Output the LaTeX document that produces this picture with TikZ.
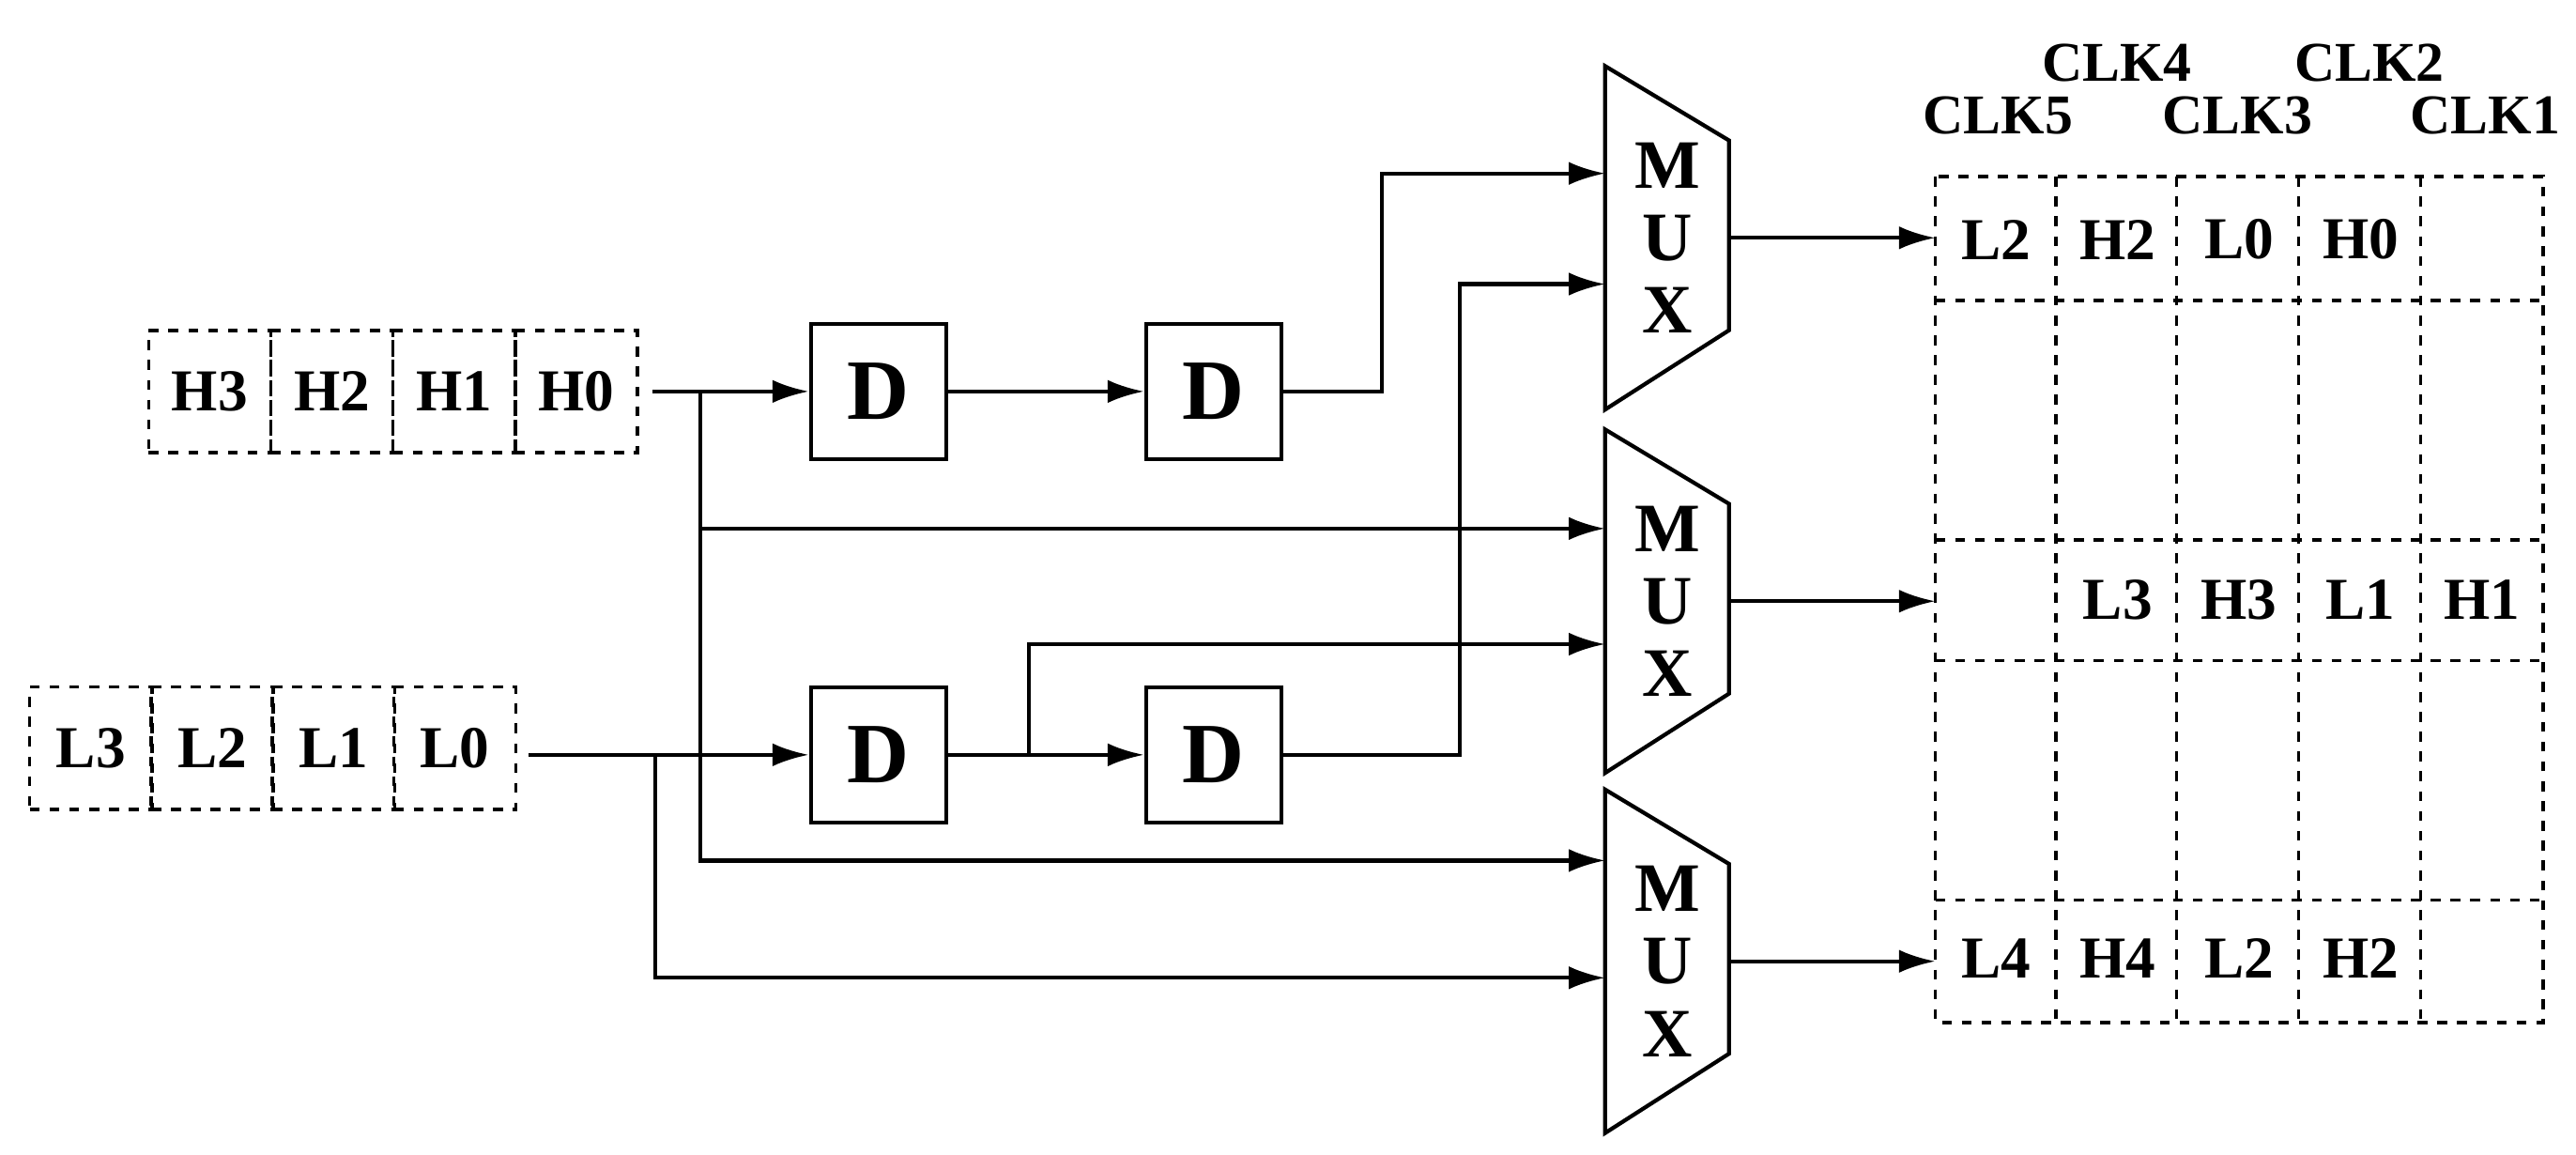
\documentclass[tikz,border=0pt]{standalone}
\usepackage{fontspec}
\setmainfont{Liberation Serif}
\usetikzlibrary{arrows.meta}
\begin{document}
\begin{tikzpicture}[x=0.5pt,y=-0.5pt,
  cell/.style={draw,dashed,line width=1pt,minimum width=37pt,minimum height=37pt,inner sep=0pt,font=\bfseries\fontsize{18}{18}\selectfont},
  dbox/.style={draw,line width=1.2pt,minimum width=41pt,minimum height=41pt,inner sep=0pt,font=\bfseries\fontsize{26}{26}\selectfont},
  arr/.style={line width=1.2pt,-{Latex[length=11pt,width=7pt]}},
  ln/.style={line width=1.2pt},
  clk/.style={font=\bfseries\fontsize{17}{17}\selectfont},
  mx/.style={font=\bfseries\fontsize{21}{21}\selectfont}]
\useasboundingbox (0,0) rectangle (1560,699);
% H cells
\foreach \t [count=\i] in {H3,H2,H1,H0} \node[cell] (h\i) at ({90+74*(\i-1)+37},237) {\t};
\foreach \t [count=\i] in {L3,L2,L1,L0} \node[cell] (l\i) at ({18+73.5*(\i-1)+37},453) {\t};
% D boxes
\node[dbox] (d1) at (532,237) {D};
\node[dbox] (d2) at (735,237) {D};
\node[dbox] (d3) at (532,457) {D};
\node[dbox] (d4) at (735,457) {D};
% MUXes
\foreach \k/\y in {1/40,2/260,3/478}{
  \draw[line width=1.2pt] (972,\y) -- (1047,\y+45) -- (1047,\y+160) -- (972,\y+208) -- cycle;
  \node[mx] at (1010,\y+60) {M};
  \node[mx] at (1010,\y+104) {U};
  \node[mx] at (1010,\y+148) {X};
  \coordinate (mo\k) at (1047,\y+104);
}
% connectors
\coordinate (hs) at (395,237);
\draw[arr] (hs) -- (d1.west);
\draw[arr] (d1.east) -- (d2.west);
\draw[arr] (d2.east) -- (837,237) -- (837,105) -- (972,105);
\draw[arr] (424,237) -- (424,521) -- (972,521);
\draw[arr] (424,320) -- (972,320);
\coordinate (ls) at (320,457);
\draw[arr] (ls) -- (d3.west);
\draw[arr] (d3.east) -- (d4.west);
\draw[arr] (397,457) -- (397,592) -- (972,592);
\draw[arr] (623,457) -- (623,390) -- (972,390);
\draw[arr] (d4.east) -- (884,457) -- (884,172) -- (972,172);
\foreach \k in {1,2,3}{\draw[arr] (mo\k) -- ++(125,0) coordinate (gi\k);}
% grid
\draw[dashed,line width=1pt] (1172,107) rectangle (1540,619);
\foreach \y in {182,327,400,545} \draw[dashed,line width=1pt] (1172,\y) -- (1540,\y);
\foreach \x in {1245,1318,1392,1466} \draw[dashed,line width=1pt] (\x,107) -- (\x,619);
\foreach \t [count=\i] in {L2,H2,L0,H0} \node[cell,draw=none] at ({1172+73.6*(\i-1)+36.8},145) {\t};
\foreach \t [count=\i] in {L3,H3,L1,H1} \node[cell,draw=none] at ({1172+73.6*\i+36.8},363) {\t};
\foreach \t [count=\i] in {L4,H4,L2,H2} \node[cell,draw=none] at ({1172+73.6*(\i-1)+36.8},580) {\t};
\node[clk] at (1210,70) {CLK5};
\node[clk] at (1282,38) {CLK4};
\node[clk] at (1355,70) {CLK3};
\node[clk] at (1435,38) {CLK2};
\node[clk] at (1505,70) {CLK1};
\end{tikzpicture}
\end{document}
